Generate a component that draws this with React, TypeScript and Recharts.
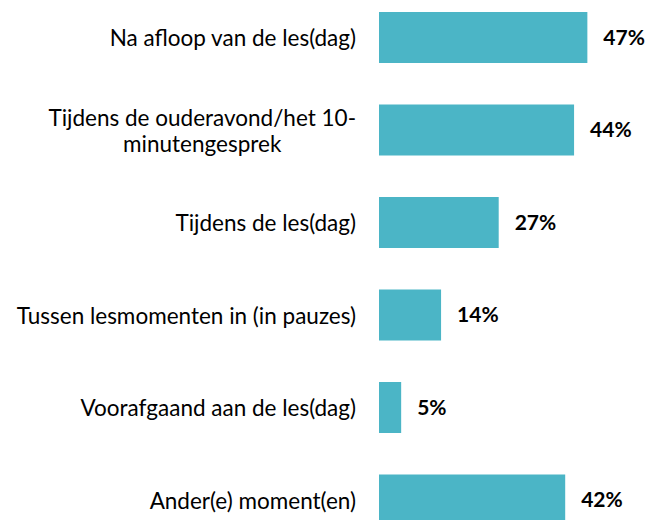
import { Bar, BarChart, LabelList, XAxis, YAxis } from "recharts";

const categories = [
    "Na afloop van de les(dag)",
    "Tijdens de ouderavond/het 10-\nminutengesprek",
    "Tijdens de les(dag)",
    "Tussen lesmomenten in (in pauzes)",
    "Voorafgaand aan de les(dag)",
    "Ander(e) moment(en)",
];
const values = [47, 44, 27, 14, 5, 42];

const data = categories.map((name, i) => ({ name, value: values[i] }));

const FONT = "Lato, 'Open Sans', sans-serif";
const FONT_SIZE = 22.5;

let ctx: CanvasRenderingContext2D | null = null;
const measure = (s: string) => {
    if (!ctx) ctx = document.createElement("canvas").getContext("2d");
    if (!ctx) return s.length * 10;
    ctx.font = `${FONT_SIZE}px Lato`;
    return ctx.measureText(s).width;
};

const CategoryTick = (props: any) => {
    const { x, y, payload } = props;
    const lines: string[] = String(payload.value).split("\n");
    const multi = lines.length > 1;
    const widest = Math.max(...lines.map(measure));
    const cx = multi ? x - widest / 2 : x;
    const lh = 26;
    const startY = y - ((lines.length - 1) * lh) / 2;
    return (
        <text
            x={cx}
            y={startY}
            textAnchor={multi ? "middle" : "end"}
            dominantBaseline="central"
            fill="#000"
            fontSize={FONT_SIZE}
            fontFamily={FONT}
        >
            {lines.map((l, i) => (
                <tspan key={i} x={cx} dy={i === 0 ? 0 : lh}>
                    {l}
                </tspan>
            ))}
        </text>
    );
};

export default function App() {
    return (
        <div style={{ position: "absolute", left: 0, top: 0, width: 648, height: 520, overflow: "hidden", background: "#fff" }}>
            <div style={{ marginTop: -9 }}>
                <BarChart
                    width={648}
                    height={555}
                    data={data}
                    layout="vertical"
                    margin={{ top: 0, right: 3, bottom: 0, left: 0 }}
                >
                    <XAxis type="number" domain={[0, 60]} hide />
                    <YAxis
                        type="category"
                        dataKey="name"
                        width={379}
                        axisLine={false}
                        tickLine={false}
                        tickMargin={17}
                        interval={0}
                        tick={<CategoryTick />}
                    />
                    <Bar dataKey="value" fill="#4BB5C6" barSize={51} isAnimationActive={false}>
                        <LabelList
                            dataKey="value"
                            position="right"
                            offset={16}
                            formatter={(v: any) => `${v}%`}
                            fill="#000"
                            fontSize={21}
                            fontWeight="bold"
                            fontFamily={FONT}
                        />
                    </Bar>
                </BarChart>
            </div>
        </div>
    );
}
